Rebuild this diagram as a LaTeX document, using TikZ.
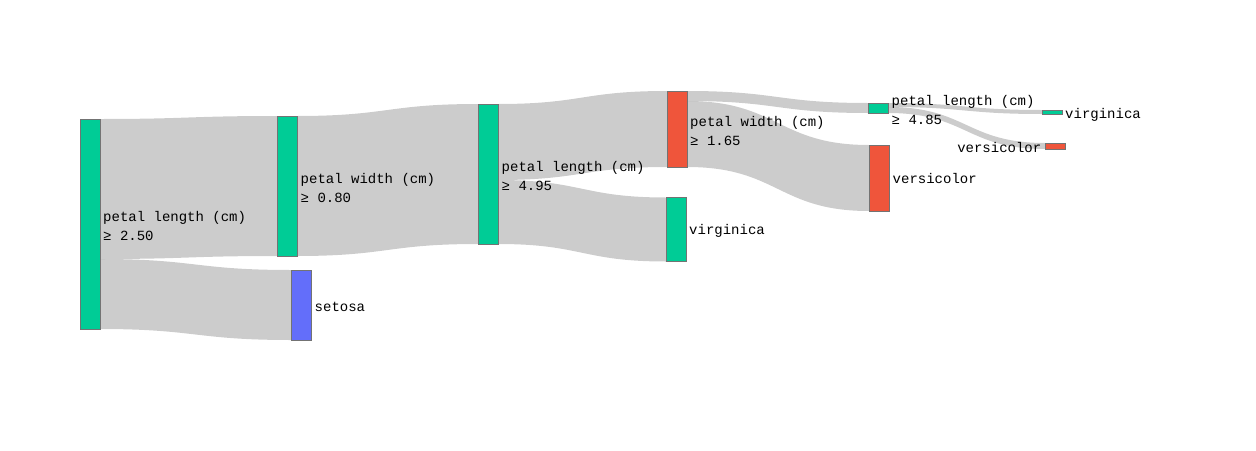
\documentclass[tikz,border=0pt]{standalone}
\usepackage{fontspec}
\setmonofont{Liberation Mono}
\usetikzlibrary{calc,backgrounds}
\definecolor{pgreen}{HTML}{00CC96}
\definecolor{pred}{HTML}{EF553B}
\definecolor{pblue}{HTML}{636EFA}
\tikzset{
  box/.style={rectangle, draw=black!55, line width=0.5pt, minimum width=20pt, inner sep=0pt, outer sep=0pt},
  lbl/.style={anchor=west, inner sep=0pt, align=left, text=black, yshift=-1.5pt, font=\ttfamily\fontsize{14}{19}\selectfont},
  lblr/.style={lbl, anchor=east, align=right},
  band/.style={fill=black, fill opacity=0.2, draw=none}
}
\newcommand{\band}[4]{%
  \path[band] let \p1=(#1), \p2=(#2), \p3=(#3), \p4=(#4) in
    (\p1) .. controls ({(\x1+\x3)/2},\y1) and ({(\x1+\x3)/2},\y3) .. (\p3)
    -- (\p4) .. controls ({(\x1+\x3)/2},\y4) and ({(\x1+\x3)/2},\y2) .. (\p2) -- cycle;}
\begin{document}
\begin{tikzpicture}[x=1pt,y=-1pt]
\useasboundingbox (0,0) rectangle (1256,450);
% nodes
\node[box, fill=pgreen, minimum height=210pt] (n0) at (90,224) {};
\node[box, fill=pgreen, minimum height=140pt] (n1) at (287,186) {};
\node[box, fill=pblue,  minimum height=70pt]  (set) at (301,305) {};
\node[box, fill=pgreen, minimum height=140pt] (n2) at (488,174) {};
\node[box, fill=pred,   minimum height=76pt]  (n3) at (677,129) {};
\node[box, fill=pgreen, minimum height=64pt]  (vir1) at (676,229.5) {};
\node[box, fill=pgreen, minimum height=10pt]  (n4) at (878,108) {};
\node[box, fill=pred,   minimum height=66pt]  (ver1) at (879,178) {};
\node[box, fill=pgreen, minimum height=4pt]   (vir2) at (1052,112) {};
\node[box, fill=pred,   minimum height=6pt]   (ver2) at (1055,146) {};
% split points
\coordinate (n0s) at ($(n0.north east)+(0,-140pt)$);
\coordinate (n2s) at ($(n2.north east)+(0,-76pt)$);
\coordinate (n3s) at ($(n3.north east)+(0,-10pt)$);
\coordinate (n4s) at ($(n4.north east)+(0,-4pt)$);
% links
\begin{scope}[on background layer]
\fill[white] (0,0) rectangle (1256,450);
\band{n0.north east}{n0s}{n1.north west}{n1.south west}
\band{n0s}{n0.south east}{set.north west}{set.south west}
\band{n1.north east}{n1.south east}{n2.north west}{n2.south west}
\band{n2.north east}{n2s}{n3.north west}{n3.south west}
\band{n2s}{n2.south east}{vir1.north west}{vir1.south west}
\band{n3.north east}{n3s}{n4.north west}{n4.south west}
\band{n3s}{n3.south east}{ver1.north west}{ver1.south west}
\band{n4.north east}{n4s}{vir2.north west}{vir2.south west}
\band{n4s}{n4.south east}{ver2.north west}{ver2.south west}
\end{scope}
% labels
\node[lbl] (l0) at ([xshift=3pt]n0.east) {petal length (cm)\\≥ 2.50};
\node[lbl] (l1) at ([xshift=3.5pt]n1.east) {petal width (cm)\\≥ 0.80};
\node[lbl] (ls) at ([xshift=3.5pt]set.east) {setosa};
\node[lbl] (l2) at ([xshift=3.5pt]n2.east) {petal length (cm)\\≥ 4.95};
\node[lbl] (l3) at ([xshift=3pt]n3.east) {petal width (cm)\\≥ 1.65};
\node[lbl] (lv1) at ([xshift=3pt]vir1.east) {virginica};
\node[lbl] (l4) at ([xshift=3.5pt]n4.east) {petal length (cm)\\≥ 4.85};
\node[lbl, yshift=1pt] (lve1) at ([xshift=3.5pt]ver1.east) {versicolor};
\node[lbl, yshift=-1.5pt] (lv2) at ([xshift=3pt]vir2.east) {virginica};
\node[lblr] (lve2) at ([xshift=-3.5pt]ver2.west) {versicolor};
\end{tikzpicture}
\end{document}
